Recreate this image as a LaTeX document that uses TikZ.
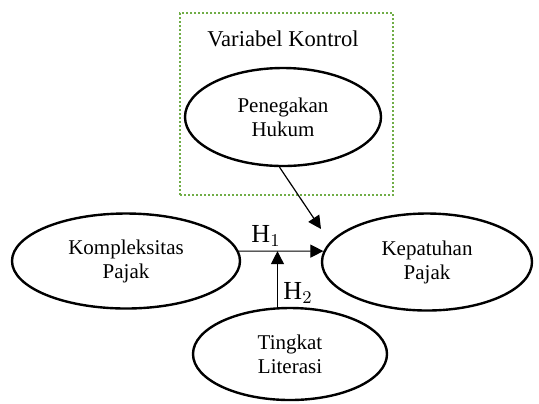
\documentclass[tikz,border=0pt]{standalone}
\usepackage{fontspec}
\setmainfont{Liberation Serif}
\usetikzlibrary{arrows.meta}
\usetikzlibrary{positioning, shapes.geometric}
\definecolor{kontrolgreen}{HTML}{70AD47}
\tikzset{
variabel/.style = { ellipse, draw = black, fill = white, line width = 1.2pt, align = center, inner sep = 0pt, font = \fontsize{10.5}{12}\selectfont },
pengaruh/.style = { draw = black, line width = 0.6pt, -{Triangle[length = 6.5pt, width = 6.5pt]} },
hipotesis/.style = { font = \fontsize{13}{15}\selectfont, inner sep = 0pt },
kontrol box/.style = { draw = kontrolgreen, line width = 1.3pt, dash pattern = on 1.1pt off 0.9pt },
}

\begin{document}
\begin{tikzpicture}[x = 0.5pt, y = -0.5pt]
    \useasboundingbox (0, 0) rectangle (539, 403);
    \node[kontrol box, minimum width = 106.5pt, minimum height = 91pt] (kotak) at (286.5, 104) {};
    \node[font = \fontsize{11.3}{13}\selectfont] (judul) at (283, 39) {Variabel Kontrol};
    \node[variabel, minimum width = 98pt, minimum height = 49pt] (hukum) at (283, 117) {Penegakan\\Hukum};
    \node[variabel, minimum width = 114pt, minimum height = 47.5pt] (komp) at (126, 261) {Kompleksitas\\Pajak};
    \node[variabel, minimum width = 105pt, minimum height = 48.5pt] (patuh) at (427, 262) {Kepatuhan\\Pajak};
    \node[variabel, minimum width = 97pt, minimum height = 46pt] (literasi) at (290, 354) {Tingkat\\Literasi};
    \coordinate (ujung) at (321, 229);
    \draw[pengaruh] (hukum.266) -- (ujung);
    \draw[pengaruh] (komp.5) -- (patuh.174);
    \draw[pengaruh] (literasi.105) -- (literasi.105 |- komp.5);
    \node[hipotesis] (h1) at (266, 236) {H$_1$};
    \node[hipotesis] (h2) at (298, 293) {H$_2$};
  \end{tikzpicture}
\end{document}
